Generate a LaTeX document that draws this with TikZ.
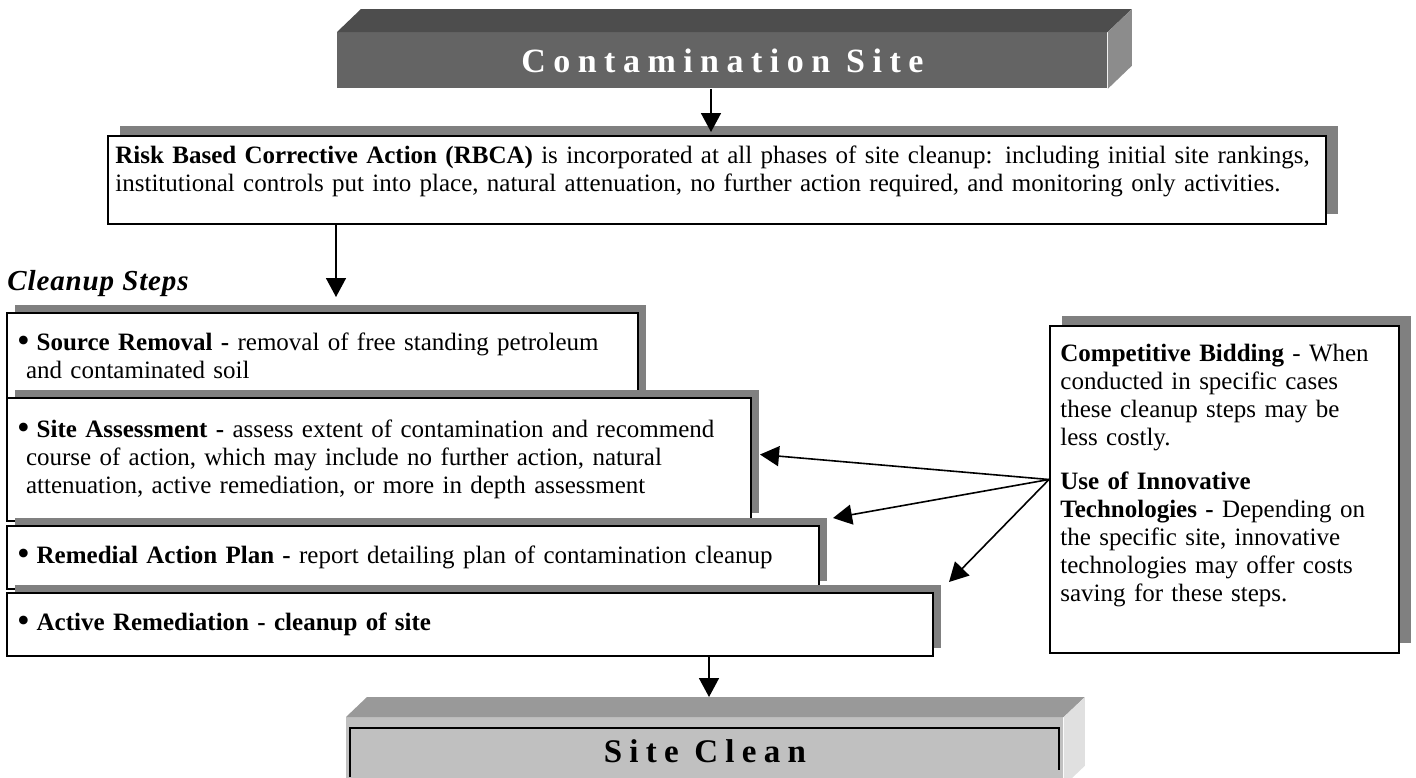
\documentclass[tikz,border=0pt]{standalone}
\usepackage{fontspec}
\setmainfont{Liberation Serif}
\newfontfamily\titlefont[LetterSpace=22]{Liberation Serif}
\newfontfamily\headfont[LetterSpace=3]{Liberation Serif}
\usetikzlibrary{arrows.meta,shadows}
\definecolor{shadowgray}{HTML}{808080}
\definecolor{sitetop}{HTML}{4D4D4D}
\definecolor{sitefront}{HTML}{646464}
\definecolor{siteside}{HTML}{8C8C8C}
\definecolor{cleantop}{HTML}{999999}
\definecolor{cleanfront}{HTML}{C0C0C0}
\definecolor{cleanside}{HTML}{E0E0E0}
\newcommand{\bodyfont}{\fontsize{12.5}{14}\selectfont}
\newcommand{\stepdot}{\hspace*{-4.5pt}\raisebox{-0.7pt}{\scalebox{1.45}{\textbullet}}\hspace{3.5pt}}

\begin{document}
\begin{tikzpicture}[x=0.5pt,y=-0.5pt,
	stepbox/.style={draw,line width=1pt,fill=white,anchor=north west,align=left,inner xsep=9.5pt,inner ysep=0pt,font=\bodyfont,drop shadow={shadow xshift=4pt,shadow yshift=4pt,opacity=1,fill=shadowgray}},
	notebox/.style={draw,line width=1pt,fill=white,anchor=north west,inner sep=0pt,drop shadow={shadow xshift=6pt,shadow yshift=5pt,opacity=1,fill=shadowgray}},
	titlebox/.style={anchor=north west,inner sep=0pt,font=\titlefont\bfseries\fontsize{17}{20}\selectfont},
	bodytext/.style={anchor=north west,inner sep=0pt,align=left,font=\bodyfont},
	arr/.style={-{Triangle[length=9.5pt,width=10pt]},line width=0.8pt}]
	\useasboundingbox (0,0) rectangle (1416,777);
	\clip (0,0) rectangle (1416,777);
	
	%Shape: Cube [id:contam]
	\node[titlebox,fill=sitefront,text=white,minimum width=385pt,minimum height=28pt] (contam) at (337,32) {Contamination Site};
	\fill[sitetop] (contam.north west) -- ++(12pt,11.5pt) -- ([shift={(12pt,11.5pt)}]contam.north east) -- (contam.north east) -- cycle;
	\fill[siteside] (contam.north east) -- ++(12pt,11.5pt) -- ([shift={(12pt,11.5pt)}]contam.south east) -- (contam.south east) -- cycle;
	
	%Shape: Rectangle [id:rbca]
	\node[notebox,minimum width=609pt,minimum height=44pt] (rbca) at (107,135) {};
	% Text Node
	\node[bodytext,text width=612pt] (rbcatext) at (115,145) {\textbf{Risk Based Corrective Action (RBCA)} is incorporated at all phases of site cleanup: including initial site rankings,\\institutional controls put into place, natural attenuation, no further action required, and monitoring only activities.};
	
	% Text Node
	\node[anchor=base west,inner sep=0pt,font=\headfont\bfseries\itshape\fontsize{14.5}{17}\selectfont] (stepshead) at (7,290) {Cleanup Steps};
	
	%Shape: Rectangle [id:source]
	\node[stepbox,text width=296.5pt,minimum height=43pt] (source) at (6,312) {\stepdot\textbf{Source Removal -} removal of free standing petroleum\\and contaminated soil};
	%Shape: Rectangle [id:assess]
	\node[stepbox,text width=353pt,minimum height=61.5pt] (assess) at (6,397) {\stepdot\textbf{Site Assessment -} assess extent of contamination and recommend\\course of action, which may include no further action, natural\\attenuation, active remediation, or more in depth assessment};
	%Shape: Rectangle [id:remedial]
	\node[stepbox,text width=387pt,minimum height=31.5pt] (remedial) at (6,525) {\stepdot\textbf{Remedial Action Plan -} report detailing plan of contamination cleanup};
	%Shape: Rectangle [id:active]
	\node[stepbox,text width=444pt,minimum height=31.5pt] (active) at (6,592) {\stepdot\textbf{Active Remediation - cleanup of site}};
	
	%Shape: Rectangle [id:bid]
	\node[notebox,minimum width=174.5pt,minimum height=163.5pt] (bid) at (1049,325) {};
	% Text Node
	\node[bodytext,text width=165pt] (bidtext) at (1060,344) {\textbf{Competitive Bidding} - When\\conducted in specific cases\\these cleanup steps may be\\less costly.\\[8pt]\textbf{Use of Innovative}\\\textbf{Technologies -} Depending on\\the specific site, innovative\\technologies may offer costs\\saving for these steps.};
	
	%Shape: Cube [id:clean]
	\node[titlebox,fill=cleanfront,minimum width=358.5pt,minimum height=34pt,font=\titlefont\bfseries\fontsize{16.5}{20}\selectfont] (clean) at (346,717) {Site Clean};
	\fill[cleantop] (clean.north west) -- ++(10.5pt,10pt) -- ([shift={(10.5pt,10pt)}]clean.north east) -- (clean.north east) -- cycle;
	\fill[cleanside] (clean.north east) -- ++(10.5pt,10pt) -- ([shift={(10.5pt,10pt)}]clean.south east) -- (clean.south east) -- cycle;
	\draw[line width=1pt] (350,777) |- (1059,728) -- (1059,770);
	
	%Straight Lines
	\coordinate (rbcain) at (711,132);
	\coordinate (stepsin) at (336,297);
	\coordinate (cleanin) at (709,697);
	\coordinate (bidout) at ([yshift=5pt]bid.west);
	\draw[arr] (contam.south -| rbcain) -- (rbcain);
	\draw[arr] (rbca.south -| stepsin) -- (stepsin);
	\draw[arr] (active.south -| cleanin) -- (cleanin);
	\draw[arr] (bidout) -- ([xshift=4pt,yshift=2.5pt]assess.east);
	\draw[arr] (bidout) -- ([xshift=6.5pt,yshift=3.5pt]remedial.north east);
	\draw[arr] (bidout) -- ([xshift=7.5pt,yshift=5pt]active.north east);
	
\end{tikzpicture}
\end{document}
